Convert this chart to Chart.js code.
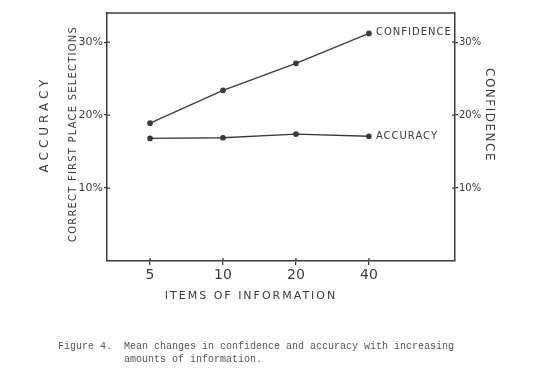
<!DOCTYPE html>
<html>
<head>
<meta charset="utf-8">
<script src="https://cdn.jsdelivr.net/npm/chart.js@4"></script>
<style>
  html, body { margin: 0; padding: 0; background: #fff; }
  #wrap { position: relative; width: 534px; height: 382px; }
  #c { position: absolute; left: 0; top: 0; }
  #caption {
    position: absolute; left: 58px; top: 340px;
    font-family: "Liberation Mono", "DejaVu Sans Mono", monospace;
    font-size: 10px; line-height: 13px; color: #555; white-space: pre;
  }
</style>
</head>
<body>
<div id="wrap">
  <canvas id="c" width="534" height="382"></canvas>
  <div id="caption">Figure 4.  Mean changes in confidence and accuracy with increasing
           amounts of information.</div>
</div>
<script>
const categories = ["5", "10", "20", "40"];
const confidence = [18.9, 23.4, 27.1, 31.2];
const accuracy = [16.8, 16.9, 17.4, 17.1];
const yTicks = [10, 20, 30];

const ink = '#3a3a3a';
const handFont = '"DejaVu Sans", sans-serif';

function pts(arr) { return arr.map((v, i) => ({ x: i, y: v })); }

function spacedText(ctx, text, x, y, spacing) {
  ctx.letterSpacing = spacing + 'px';
  ctx.fillText(text, x, y);
  ctx.letterSpacing = '0px';
}

const decor = {
  id: 'decor',
  afterDraw(chart) {
    const ctx = chart.ctx;
    const a = chart.chartArea;
    ctx.save();
    // top frame line
    ctx.strokeStyle = ink;
    ctx.lineWidth = 1.5;
    ctx.beginPath();
    ctx.moveTo(a.left, a.top);
    ctx.lineTo(a.right, a.top);
    ctx.stroke();

    // inward tick stubs (ticks cross the axes)
    ctx.lineWidth = 1.3;
    ctx.beginPath();
    chart.scales.x.ticks.forEach(t => {
      const px = chart.scales.x.getPixelForValue(t.value);
      ctx.moveTo(px, a.bottom); ctx.lineTo(px, a.bottom - 3);
    });
    chart.scales.y.ticks.forEach(t => {
      const py = chart.scales.y.getPixelForValue(t.value);
      ctx.moveTo(a.left, py); ctx.lineTo(a.left + 3, py);
    });
    chart.scales.y2.ticks.forEach(t => {
      const py = chart.scales.y2.getPixelForValue(t.value);
      ctx.moveTo(a.right, py); ctx.lineTo(a.right - 3, py);
    });
    ctx.stroke();

    ctx.fillStyle = ink;
    ctx.textBaseline = 'middle';
    // series labels
    ctx.font = '10px ' + handFont;
    ctx.textAlign = 'left';
    const mc = chart.getDatasetMeta(0).data[3];
    const ma = chart.getDatasetMeta(1).data[3];
    spacedText(ctx, 'CONFIDENCE', mc.x + 7, mc.y - 1, 1);
    spacedText(ctx, 'ACCURACY', ma.x + 7, ma.y, 1);

    // x title
    ctx.textAlign = 'center';
    ctx.font = '11px ' + handFont;
    spacedText(ctx, 'ITEMS OF INFORMATION', 251, 296, 2);

    // left titles
    ctx.save();
    ctx.translate(45, 124);
    ctx.rotate(-Math.PI / 2);
    ctx.font = '12px ' + handFont;
    spacedText(ctx, 'ACCURACY', 0, 0, 4);
    ctx.restore();

    ctx.save();
    ctx.translate(73, 134);
    ctx.rotate(-Math.PI / 2);
    ctx.font = '10px ' + handFont;
    spacedText(ctx, 'CORRECT FIRST PLACE SELECTIONS', 0, 0, 1.2);
    ctx.restore();

    // right title
    ctx.save();
    ctx.translate(489, 115);
    ctx.rotate(Math.PI / 2);
    ctx.font = '12px ' + handFont;
    spacedText(ctx, 'CONFIDENCE', 0, 0, 1.5);
    ctx.restore();

    ctx.restore();
  }
};

const lineStyle = {
  borderColor: ink,
  backgroundColor: ink,
  borderWidth: 1.3,
  pointRadius: 2.2,
  pointBackgroundColor: ink,
  pointBorderColor: ink,
  fill: false,
  tension: 0
};

new Chart(document.getElementById('c'), {
  type: 'line',
  data: {
    datasets: [
      Object.assign({ label: 'Confidence', data: pts(confidence), yAxisID: 'y' }, lineStyle),
      Object.assign({ label: 'Accuracy', data: pts(accuracy), yAxisID: 'y' }, lineStyle)
    ]
  },
  options: {
    responsive: false,
    animation: false,
    layout: { padding: { top: 13, left: 0, right: 0, bottom: 0 } },
    plugins: { legend: { display: false }, tooltip: { enabled: false } },
    scales: {
      x: {
        type: 'linear',
        min: -0.59,
        max: 4.18,
        afterBuildTicks(s) { s.ticks = categories.map((c, i) => ({ value: i })); },
        afterFit(s) { s.height = 121; },
        ticks: {
          callback: (v) => categories[v] ?? '',
          color: ink,
          font: { size: 14, family: handFont },
          padding: 2,
          maxRotation: 0
        },
        grid: { display: true, drawOnChartArea: false, drawTicks: true, tickLength: 4, color: ink, lineWidth: 1.3 },
        border: { display: true, color: ink, width: 1.5 }
      },
      y: {
        position: 'left',
        min: 0,
        max: 34,
        afterBuildTicks(s) { s.ticks = yTicks.map(v => ({ value: v })); },
        afterFit(s) { s.width = 107; },
        ticks: {
          callback: (v) => v + '%',
          color: ink,
          font: { size: 11, family: handFont },
          padding: 1
        },
        grid: { display: true, drawOnChartArea: false, drawTicks: true, tickLength: 3, color: ink, lineWidth: 1.3 },
        border: { display: true, color: ink, width: 1.5 }
      },
      y2: {
        position: 'right',
        min: 0,
        max: 34,
        afterBuildTicks(s) { s.ticks = yTicks.map(v => ({ value: v })); },
        afterFit(s) { s.width = 79; },
        ticks: {
          callback: (v) => v + '%',
          color: ink,
          font: { size: 10, family: handFont },
          padding: 1
        },
        grid: { display: true, drawOnChartArea: false, drawTicks: true, tickLength: 3, color: ink, lineWidth: 1.3 },
        border: { display: true, color: ink, width: 1.5 }
      }
    }
  },
  plugins: [decor]
});
</script>
</body>
</html>
